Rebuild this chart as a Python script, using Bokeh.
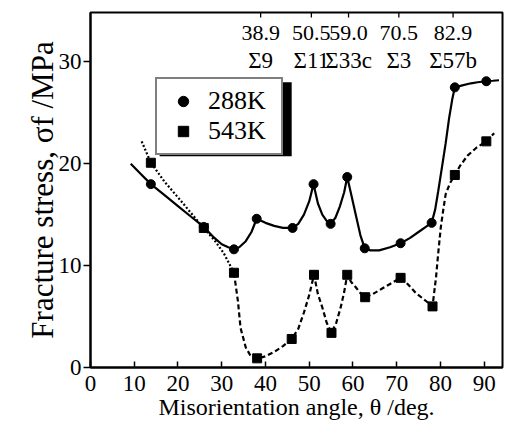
import math
from bokeh.plotting import figure
from bokeh.models import (FixedTicker, Legend, LegendItem, BoxAnnotation,
                          Range1d, ColumnDataSource)
from bokeh.core.properties import value
from bokeh.embed import file_html
from bokeh.resources import INLINE

FONT = "Liberation Serif"

# ---------------- data ----------------
x_ticks = [0, 10, 20, 30, 40, 50, 60, 70, 80, 90]
y_ticks = [0, 10, 20, 30]

angle_288 = [13.8, 25.9, 32.8, 38.0, 46.2, 51.0, 54.9, 58.7, 62.7, 70.9, 78.0, 83.3, 90.5]
stress_288 = [18.0, 13.8, 11.6, 14.6, 13.7, 18.0, 14.1, 18.7, 11.7, 12.2, 14.2, 27.5, 28.1]

angle_543 = [13.8, 25.9, 32.8, 38.1, 46.0, 51.1, 55.1, 58.7, 62.8, 70.9, 78.2, 83.3, 90.5]
stress_543 = [20.1, 13.7, 9.3, 0.9, 2.8, 9.1, 3.4, 9.1, 6.9, 8.8, 6.0, 18.9, 22.2]

curve_288_x = [9.2, 11.5, 13.8, 17.0, 20.0, 23.0, 25.9, 28.0, 30.0, 31.5, 32.8, 34.0, 35.5,
               36.8, 38.0, 40.0, 42.0, 44.0, 46.2, 47.5, 48.8, 50.0, 51.0, 52.0, 53.0, 54.0,
               54.9, 56.0, 57.0, 58.0, 58.7, 59.7, 60.7, 61.7, 62.7, 64.0, 66.0, 68.5, 70.9,
               73.0, 75.0, 77.0, 78.0, 78.8, 79.5, 80.3, 81.2, 82.0, 82.7, 83.3, 85.0, 87.0,
               88.5, 90.5, 92.0, 93.4]
curve_288_y = [20.0, 19.0, 18.0, 16.9, 15.85, 14.8, 13.8, 12.85, 12.1, 11.8, 11.65, 11.8, 12.4,
               13.3, 14.6, 14.2, 13.9, 13.7, 13.7, 14.1, 15.0, 16.3, 18.0, 16.1, 15.0, 14.4,
               14.1, 14.7, 15.8, 17.2, 18.7, 16.8, 14.9, 13.0, 11.7, 11.5, 11.5, 11.8, 12.2,
               12.7, 13.3, 13.9, 14.2, 15.5, 17.3, 19.5, 22.0, 24.5, 26.3, 27.5, 27.7, 27.9,
               28.0, 28.1, 28.15, 28.2]

curve_543_dot_x = [11.7, 13.8, 17.0, 20.6, 23.5, 25.9, 28.5, 30.5, 32.8]
curve_543_dot_y = [22.2, 20.1, 18.2, 16.4, 14.9, 13.7, 12.4, 11.2, 9.3]

curve_543_dash_x = [32.8, 33.7, 34.3, 35.5, 36.6, 38.1, 40.0, 41.9, 44.0, 46.0, 47.5, 48.8,
                    50.0, 51.1, 52.0, 53.0, 54.0, 55.1, 56.2, 57.2, 58.0, 58.7, 59.6, 60.6,
                    61.7, 62.8, 64.5, 66.5, 68.5, 70.9, 72.5, 74.4, 76.5, 78.2, 79.0, 79.5,
                    80.1, 80.7, 81.2, 82.2, 83.3, 84.5, 86.2, 88.3, 90.5, 92.3]
curve_543_dash_y = [9.3, 6.55, 3.9, 1.97, 1.15, 0.87, 1.1, 1.5, 2.1, 2.8, 3.8, 5.4,
                    7.1, 9.1, 7.2, 5.9, 4.4, 3.4, 4.4, 5.9, 7.4, 9.1, 8.4, 7.9,
                    7.3, 6.9, 7.2, 7.7, 8.2, 8.8, 8.2, 7.3, 6.6, 6.0, 8.85, 11.2,
                    13.8, 15.6, 17.0, 18.1, 18.9, 19.8, 20.8, 21.6, 22.2, 23.0]

sigma_angles = [38.9, 50.5, 59.0, 70.5, 82.9]
sigma_angle_labels = ["38.9", "50.5", "59.0", "70.5", "82.9"]
sigma_names = ["\u03a39", "\u03a311", "\u03a333c", "\u03a33", "\u03a357b"]

X_MAX = 94.2
Y_MAX = 34.85

# ---------------- figure ----------------
p = figure(width=506, height=423, x_range=Range1d(0, X_MAX), y_range=Range1d(0, Y_MAX),
           output_backend="svg", toolbar_location=None,
           min_border_left=90, min_border_right=4, min_border_top=12, min_border_bottom=56)
p.grid.visible = False
p.outline_line_color = "black"
p.outline_line_width = 2
p.background_fill_color = "white"
p.border_fill_color = "white"

xax = p.below[0]
xax.ticker = FixedTicker(ticks=x_ticks)
xax.major_tick_in = 6
xax.major_tick_out = 0
xax.minor_tick_line_color = None
xax.axis_line_width = 2
xax.major_tick_line_width = 1.5
xax.major_label_text_font = FONT
xax.major_label_text_font_size = "23px"
xax.major_label_text_color = "black"
xax.major_label_standoff = 8
xax.axis_label = "Misorientation angle, \u03b8 /deg."
xax.axis_label_text_font = FONT
xax.axis_label_text_font_style = "normal"
xax.axis_label_text_font_size = "24px"
xax.axis_label_text_color = "black"
xax.axis_label_standoff = 0

yax = p.left[0]
yax.ticker = FixedTicker(ticks=y_ticks)
yax.major_tick_in = 0
yax.major_tick_out = 7
yax.minor_tick_line_color = None
yax.axis_line_width = 2
yax.major_tick_line_width = 1.5
yax.major_label_text_font = FONT
yax.major_label_text_font_size = "23px"
yax.major_label_text_color = "black"
yax.major_label_standoff = 2
yax.axis_label = "Fracture stress, \u03c3f /MPa"
yax.axis_label_text_font = FONT
yax.axis_label_text_font_style = "normal"
yax.axis_label_text_font_size = "31px"
yax.axis_label_text_color = "black"
yax.axis_label_standoff = -4

# ---------------- curves ----------------
p.line(curve_288_x, curve_288_y, line_color="black", line_width=2.2)
p.line(curve_543_dot_x, curve_543_dot_y, line_color="black", line_width=2.2, line_dash="2 2")
p.line(curve_543_dash_x, curve_543_dash_y, line_color="black", line_width=2.2, line_dash="5 3")

r288 = p.scatter(angle_288, stress_288, marker="circle", size=9, color="black")
r543 = p.scatter(angle_543, stress_543, marker="square", size=9, color="black")

# inward tick marks on the top edge at the special boundary angles
p.segment(x0=sigma_angles, y0=[Y_MAX] * len(sigma_angles),
          x1=sigma_angles, y1=[Y_MAX - 0.5] * len(sigma_angles),
          line_color="black", line_width=1.3)

# ---------------- annotations ----------------
src = ColumnDataSource(dict(x=sigma_angles, a=sigma_angle_labels, s=sigma_names,
                            y1=[32.8] * len(sigma_angles), y2=[30.1] * len(sigma_angles)))
p.text(x="x", y="y1", text="a", source=src, text_font=value(FONT), text_font_size="22px",
       text_align="center", text_baseline="middle", text_color="black")
p.text(x="x", y="y2", text="s", source=src, text_font=value(FONT), text_font_size="23px",
       text_align="center", text_baseline="middle", text_color="black")

# ---------------- legend with shadow ----------------
p.add_layout(BoxAnnotation(left=15.8, right=46.0, top=28.0, bottom=20.75,
                           fill_color="black", fill_alpha=1, line_color=None))
legend = Legend(items=[LegendItem(label="288K", renderers=[r288]),
                       LegendItem(label="543K", renderers=[r543])],
                location="top_left", margin=65, label_text_font=FONT,
                label_text_font_size="26px", glyph_width=38, glyph_height=26,
                label_height=26, label_standoff=6, padding=7, spacing=-3, label_width=66,
                border_line_color="black", border_line_width=2,
                background_fill_color="white", background_fill_alpha=1,
                label_text_color="black")
p.add_layout(legend)

open("out.html", "w").write(file_html(p, INLINE))
